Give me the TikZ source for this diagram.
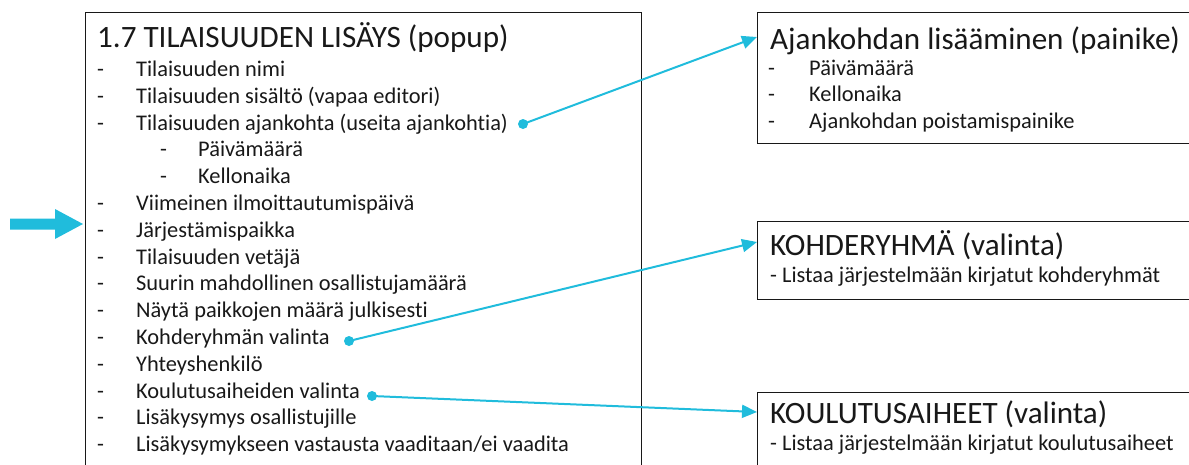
\documentclass[tikz,border=0pt]{standalone}
\usepackage{fontspec}
\setmainfont{Carlito}[Ligatures=NoCommon]
\usetikzlibrary{arrows.meta,calc}
\definecolor{linkblue}{RGB}{32,188,220}
\definecolor{ink}{RGB}{24,24,24}
% dash column of a list row: the dash, then a fixed indent to the text
\newcommand\dashcol[1]{\makebox[#1][l]{-}}

\begin{document}
\begin{tikzpicture}[x=1pt,y=-1pt,
  frame/.style={draw=ink, line width=1.1pt, inner sep=0pt, anchor=north west},
  head/.style={anchor=base west, inner sep=0pt, text=ink, font=\fontsize{31.1}{36}\selectfont},
  entry/.style={anchor=base west, inner sep=0pt, text=ink, font=\fontsize{22.4}{26.8}\selectfont},
  link/.style={draw=linkblue, line width=2pt, -{Triangle[length=15pt,width=13pt]}},
  dot/.style={circle, fill=linkblue, inner sep=0pt, minimum size=10pt},
]
\path[clip] (0,0) rectangle (1189,464);

% ---- frames ----
\node[frame, minimum width=556pt, minimum height=470pt] (popup) at (85,12) {};
\node[frame, minimum width=440pt, minimum height=131pt] (b1) at (757,12) {};
\node[frame, minimum width=440pt, minimum height=78pt]  (b2) at (757,221) {};
\node[frame, minimum width=440pt, minimum height=90pt]  (b3) at (757,392) {};

% ---- popup form ----
\node[head] (ptitle) at (97,47) {1.7 TILAISUUDEN LISÄYS (popup)};
\node[entry] (i1)  at (97,76.4)  {\dashcol{39pt}Tilaisuuden nimi};
\node[entry] (i2)  at (97,103.2) {\dashcol{39pt}Tilaisuuden sisältö (vapaa editori)};
\node[entry] (i3)  at (97,130)   {\dashcol{39pt}Tilaisuuden ajankohta (useita ajankohtia)};
\node[entry] (i3a) at (160,156.8) {\dashcol{38pt}Päivämäärä};
\node[entry] (i3b) at (160,183.6) {\dashcol{38pt}Kellonaika};
\node[entry] (i4)  at (97,210.4) {\dashcol{39pt}Viimeinen ilmoittautumispäivä};
\node[entry] (i5)  at (97,237.2) {\dashcol{39pt}Järjestämispaikka};
\node[entry] (i6)  at (97,264)   {\dashcol{39pt}Tilaisuuden vetäjä};
\node[entry] (i7)  at (97,290.8) {\dashcol{39pt}Suurin mahdollinen osallistujamäärä};
\node[entry] (i8)  at (97,317.6) {\dashcol{39pt}Näytä paikkojen määrä julkisesti};
\node[entry] (i9)  at (97,344.4) {\dashcol{39pt}Kohderyhmän valinta};
\node[entry] (i10) at (97,371.2) {\dashcol{39pt}Yhteyshenkilö};
\node[entry] (i11) at (97,398)   {\dashcol{39pt}Koulutusaiheiden valinta};
\node[entry] (i12) at (97,424.8) {\dashcol{39pt}Lisäkysymys osallistujille};
\node[entry] (i13) at (97,451.6) {\dashcol{39pt}Lisäkysymykseen vastausta vaaditaan/ei vaadita};

% ---- time slot box ----
\node[head]  (t1)  at (770,49)  {Ajankohdan lisääminen (painike)};
\node[entry] (t1a) at (768,75)  {\dashcol{41pt}Päivämäärä};
\node[entry] (t1b) at (768,101.5) {\dashcol{41pt}Kellonaika};
\node[entry] (t1c) at (768,128) {\dashcol{41pt}Ajankohdan poistamispainike};

% ---- target group box ----
\node[head]  (t2)  at (770,255) {KOHDERYHMÄ (valinta)};
\node[entry] (t2a) at (770,282) {- Listaa järjestelmään kirjatut kohderyhmät};

% ---- training topics box ----
\node[head]  (t3)  at (770,423) {KOULUTUSAIHEET (valinta)};
\node[entry] (t3a) at (770,450) {- Listaa järjestelmään kirjatut koulutusaiheet};

% ---- pointer at the form ----
\fill[linkblue] (10,218.5) -- (55,218.5) -- (55,209) -- (83,224)
  -- (55,239) -- (55,229.5) -- (10,229.5) -- cycle;

% ---- links from fields to their detail boxes ----
\node[dot] (d1) at (523,124) {};
\node[dot] (d2) at (349,341) {};
\node[dot] (d3) at (372,396) {};
\draw[link] (d1.center) -- ([yshift=-25pt]b1.north west);
\draw[link] (d2.center) -- ([yshift=-21pt]b2.north west);
\draw[link] (d3.center) -- ([yshift=-20pt]b3.north west);
\end{tikzpicture}
\end{document}
